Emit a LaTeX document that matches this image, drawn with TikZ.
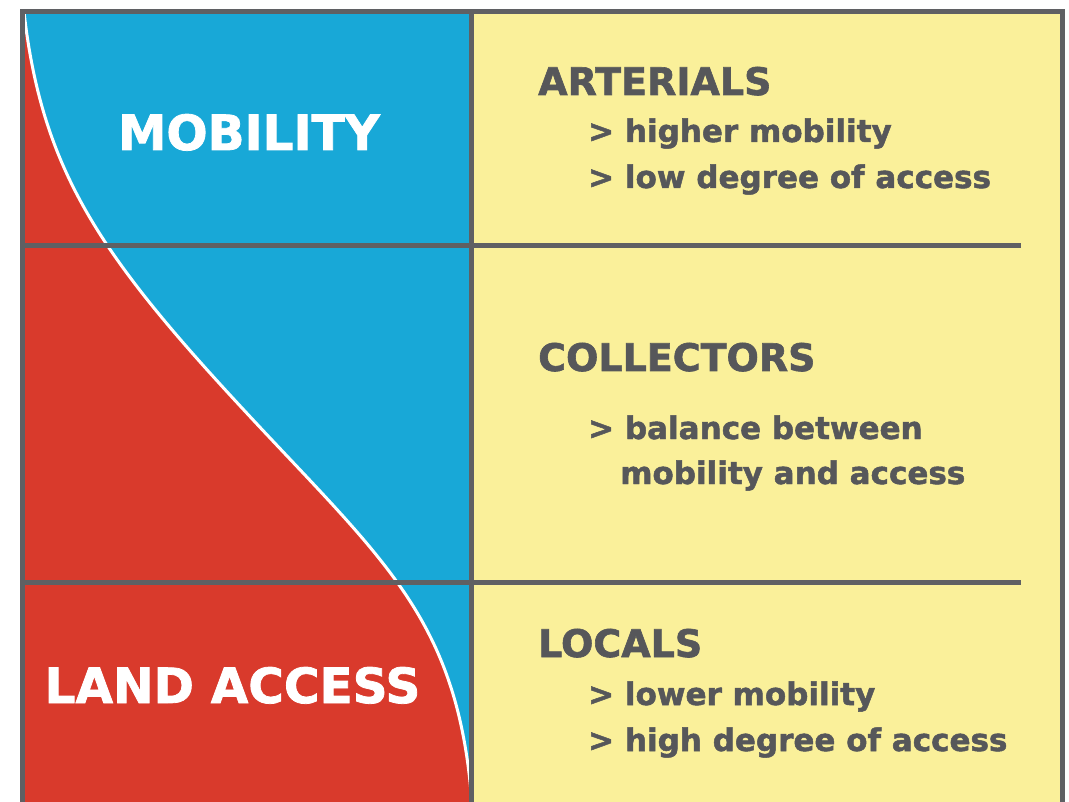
\documentclass[tikz,border=0pt]{standalone}
\usepackage{fontspec}
\setmainfont{DejaVu Sans}
\newfontfamily\heavyfont[FakeBold=1.6]{DejaVu Sans Bold}
\usepackage{xcolor}
\usetikzlibrary{positioning}
\definecolor{mobblue}{HTML}{18A8D7}
\definecolor{landred}{HTML}{D93A2C}
\definecolor{paper}{HTML}{FAF09A}
\definecolor{rule}{HTML}{5F6063}
\definecolor{ink}{HTML}{56575A}

\begin{document}
\begin{tikzpicture}[x=1pt, y=-1pt,
  bigtext/.style={
    anchor=base, inner sep=0pt,
    font=\heavyfont\fontsize{48.5}{50}\selectfont, text=white
  },
  classtitle/.style={
    anchor=base west, inner sep=0pt,
    font=\heavyfont\fontsize{38}{40}\selectfont, text=ink
  },
  classitem/.style={
    anchor=base west, inner sep=0pt,
    font=\heavyfont\fontsize{31}{33}\selectfont, text=ink
  },
  gridline/.style={
    draw=rule, line width=5pt
  }
  ]
  \useasboundingbox (0,0) rectangle (1069,802);
  \clip (0,0) rectangle (1069,802);

  % background panels
  \fill[landred] (22,12) rectangle (471,810);
  \fill[paper] (471,12) rectangle (1062,810);

  % mobility area above the curve
  \fill[mobblue] (24,12) .. controls (42,170) and (100,255) .. (242,408)
    .. controls (380,557) and (455,615) .. (471,792) -- (471,12) -- cycle;
  \draw[white, line width=3pt] (24,12) .. controls (42,170) and (100,255) .. (242,408)
    .. controls (380,557) and (455,615) .. (471,792);

  % frame and rows
  \draw[gridline] (22,810) -- (22,12) -- (1062,12) -- (1062,810);
  \draw[gridline] (471,12) -- (471,810);
  \draw[gridline] (22,245.5) -- (1021,245.5);
  \draw[gridline] (22,582) -- (1021,582);

  % left labels
  \node[bigtext] (mobility) at (249,150) {MOBILITY};
  \node[bigtext] (land) at (232.5,703) {LAND ACCESS};

  % arterials
  \node[classtitle] (art-title) at (538,95) {ARTERIALS};
  \node[classitem] (art-one) at (588,142) {> higher mobility};
  \node[classitem] (art-two) at (588,188) {> low degree of access};

  % collectors
  \node[classtitle] (col-title) at (538,371) {COLLECTORS};
  \node[classitem] (col-one) at (588,439) {> balance between};
  \node[classitem] (col-two) at (620,484) {mobility and access};

  % locals
  \node[classtitle] (loc-title) at (538,657) {LOCALS};
  \node[classitem] (loc-one) at (588,705) {> lower mobility};
  \node[classitem] (loc-two) at (588,751) {> high degree of access};
\end{tikzpicture}
\end{document}
